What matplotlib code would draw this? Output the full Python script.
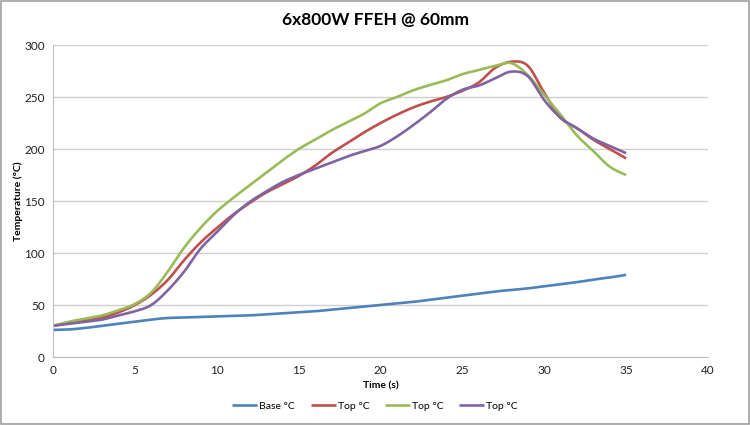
import numpy as np
import matplotlib
matplotlib.use("Agg")
import matplotlib.pyplot as plt
from matplotlib.patches import Rectangle

plt.rcParams['font.family'] = ['Lato', 'DejaVu Sans']

time_s = list(range(0, 36))
base_c = [26, 26.5, 28, 30, 32, 34, 36, 37.5, 38, 38.5, 39, 39.5, 40, 41, 42, 43, 44, 45.5,
          47, 48.5, 50, 51.5, 53, 55, 57, 59, 61, 63, 64.5, 66, 68, 70, 72, 74.5, 76.5, 79]
top1_c = [30, 33, 35.5, 38, 43, 50, 60, 74, 93, 110, 124, 137, 148, 158, 166, 174, 184, 196,
          206, 216, 225, 233, 240, 245.5, 250, 256, 264, 278, 284, 280, 254, 230, 220, 209, 200, 191]
top2_c = [30, 34, 37, 40, 45, 51, 62, 82, 105, 124, 140, 153, 165, 177, 189, 200, 209, 218,
          226, 234, 244, 250, 256.5, 261.5, 266, 272, 276, 280, 282.5, 271, 252, 233, 213, 198, 183, 175]
top3_c = [30, 32, 34, 36, 40, 44, 50, 64, 82, 104, 120, 136, 149, 159, 168, 175, 181, 187,
          193, 198, 203, 212, 223, 235, 248, 257, 261, 268, 274.5, 270, 247, 230, 220, 210, 203, 196]

series = [("Base °C", base_c, "#4F81BD"),
          ("Top °C", top1_c, "#C0504D"),
          ("Top °C", top2_c, "#9BBB59"),
          ("Top °C", top3_c, "#8064A2")]


def smooth(x, y, n=20):
    # Catmull-Rom style smoothing like Excel's smoothed line
    x = np.asarray(x, float)
    y = np.asarray(y, float)
    px = np.concatenate([[x[0]], x, [x[-1]]])
    py = np.concatenate([[y[0]], y, [y[-1]]])
    xs, ys = [], []
    for i in range(1, len(px) - 2):
        p0, p1, p2, p3 = (np.array([px[j], py[j]]) for j in (i - 1, i, i + 1, i + 2))
        c1 = p1 + (p2 - p0) / 6.0
        c2 = p2 - (p3 - p1) / 6.0
        t = np.linspace(0, 1, n, endpoint=False)[:, None]
        b = ((1 - t) ** 3) * p1 + 3 * ((1 - t) ** 2) * t * c1 + 3 * (1 - t) * t ** 2 * c2 + t ** 3 * p2
        xs.append(b[:, 0]); ys.append(b[:, 1])
    xs.append([x[-1]]); ys.append([y[-1]])
    return np.concatenate(xs), np.concatenate(ys)


fig = plt.figure(figsize=(7.5, 4.25), dpi=100)
ax = fig.add_axes([0.0707, 0.16, 0.8733, 0.734])

for label, vals, col in series:
    sx, sy = smooth(time_s, vals)
    ax.plot(sx, sy, color=col, lw=1.9, label=label, solid_capstyle='butt')

ax.set_xlim(0, 40)
ax.set_ylim(0, 300)
ax.set_xticks(range(0, 41, 5))
ax.set_yticks(range(0, 301, 50))
ax.yaxis.grid(True, color="#d0d0d0", lw=1)
ax.set_axisbelow(True)
for s in ("top", "right"):
    ax.spines[s].set_visible(False)
for s in ("left", "bottom"):
    ax.spines[s].set_color("#bfbfbf")
ax.tick_params(axis='both', length=0, labelsize=8.5, colors="#222222", pad=6)
ax.set_xlabel("Time (s)", fontsize=7.5, fontweight='bold', labelpad=4)
ax.set_ylabel("Temperature (°C)", fontsize=7.5, fontweight='bold', labelpad=1)

fig.text(0.5, 0.953, "6x800W FFEH @ 60mm", ha='center', va='center', fontsize=12.5, fontweight='bold')

leg = fig.legend(loc='center', bbox_to_anchor=(0.5, 0.045), ncol=4, frameon=False,
                 fontsize=7.5, handlelength=2.4, columnspacing=1.5, handletextpad=0.2)

fig.patches.append(Rectangle((0.001, 0.002), 0.997, 0.995, transform=fig.transFigure,
                             fill=False, edgecolor="#a0a0a0", lw=1.2))

fig.savefig("out.png", dpi=100)
